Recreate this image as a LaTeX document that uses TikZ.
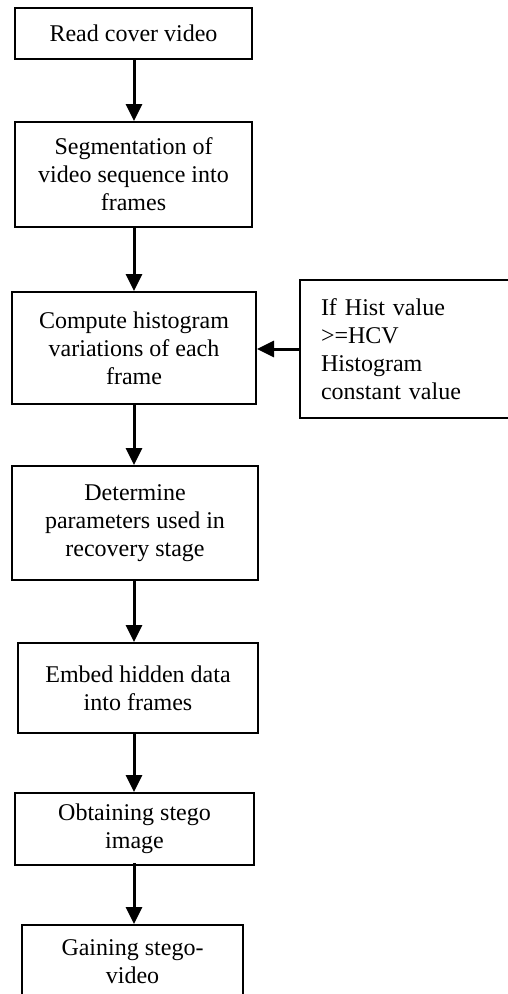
\documentclass[tikz,border=0pt]{standalone}
\usepackage{fontspec}
\setmainfont{Liberation Serif}
\usetikzlibrary{arrows.meta}
\begin{document}
\begin{tikzpicture}[x=1pt,y=-1pt,
  box/.style={draw,line width=2pt,inner sep=0pt,align=center,
    font=\fontsize{24}{28}\selectfont},
  arr/.style={line width=3pt,-{Triangle[width=16pt,length=17pt]}}]
\useasboundingbox (0,0) rectangle (508,994);
\clip (0,0) rectangle (508,994);
\node[box,minimum width=237,minimum height=51] (b1) at (133.5,33.5) {Read cover video};
\node[box,minimum width=237,minimum height=105] (b2) at (133.5,174.5) {Segmentation of\\video sequence into\\frames};
\node[box,minimum width=244,minimum height=112] (b3) at (134,348) {Compute histogram\\variations of each\\frame};
\node[box,anchor=west,minimum width=231,minimum height=138,inner xsep=21pt,text width=189pt,align=left] (side) at (299,349) {If Hist value\\>=HCV\\Histogram\\constant value};
\node[box,minimum width=246,minimum height=114] (b4) at (135,523) {Determine\\parameters used in\\recovery stage};
\node[box,minimum width=240,minimum height=90] (b5) at (138,688) {Embed hidden data\\into frames};
\node[box,minimum width=239,minimum height=72] (b6) at (134.5,829) {Obtaining stego\\image};
\node[box,anchor=north,minimum width=221,minimum height=90,text depth=16pt] (b7) at (132.5,924) {Gaining stego-\\video};
\coordinate (ax) at (134,0);
\draw[arr] (b1.south -| ax) -- (b2.north -| ax);
\draw[arr] (b2.south -| ax) -- (b3.north -| ax);
\draw[arr] (b3.south -| ax) -- (b4.north -| ax);
\draw[arr] (b4.south -| ax) -- (b5.north -| ax);
\draw[arr] (b5.south -| ax) -- (b6.north -| ax);
\draw[arr] ([yshift=3pt]b6.south -| ax) -- (b7.north -| ax);
\draw[arr] (side.west) -- (side.west -| b3.east);
\end{tikzpicture}
\end{document}
